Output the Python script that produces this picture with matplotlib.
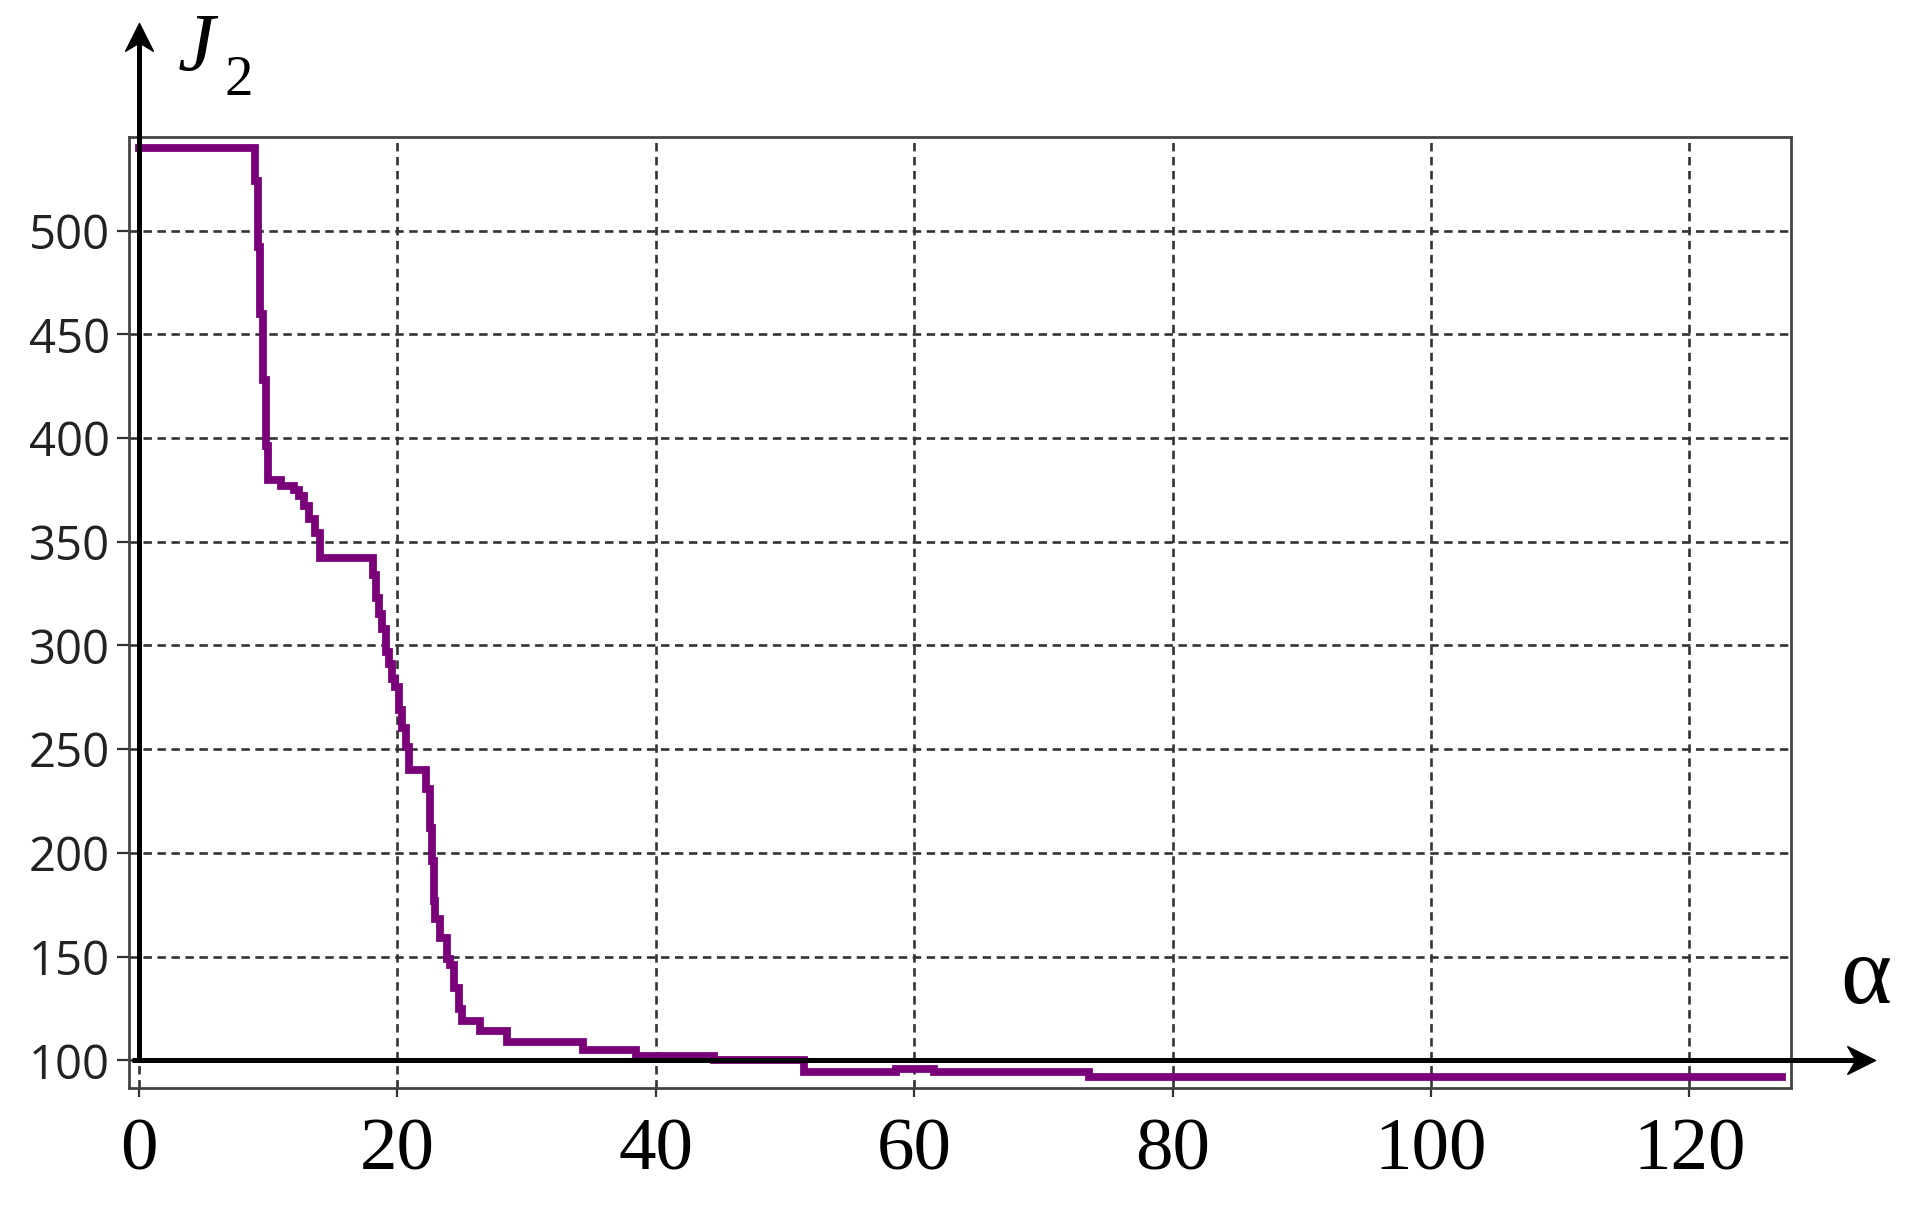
import matplotlib
matplotlib.use("Agg")
import matplotlib.pyplot as plt
from matplotlib.path import Path

# step curve J2(alpha)
alpha = [0, 9.0, 9.2, 9.4, 9.6, 9.8, 10.0, 11.0, 12.0, 12.4, 12.8, 13.2, 13.6, 14.0,
         18.1, 18.35, 18.6, 18.85, 19.1, 19.35, 19.6, 19.85, 20.1, 20.4, 20.65, 20.9,
         22.2, 22.55, 22.7, 22.85, 22.95, 23.3, 23.85, 24.1, 24.35, 24.75, 25.0,
         26.4, 28.5, 34.4, 38.5, 44.5, 51.5, 58.6, 61.5, 73.5, 127.2]
J2 = [540, 524, 492, 460, 428, 396, 380, 377, 375, 372, 367, 361, 354, 342,
      334, 323, 315, 308, 297, 291, 284, 280, 269, 260, 251, 240,
      231, 212, 196, 177, 168, 159, 149, 146, 135, 125, 119,
      114, 109, 105, 102, 100, 94.5, 96, 94.3, 92, 92]

x_ticks = [0, 20, 40, 60, 80, 100, 120]
y_ticks = [100, 150, 200, 250, 300, 350, 400, 450, 500]

fig = plt.figure(figsize=(19.16, 12.09), dpi=100)
ax = fig.add_axes([0.0673, 0.1001, 0.8673, 0.7863])

ax.plot(alpha, J2, drawstyle="steps-post", color="#7a0079", linewidth=5.6,
        solid_joinstyle="miter", zorder=3)

ax.set_xlim(-0.77, 127.84)
ax.set_ylim(86.75, 544.9)
ax.set_xticks(x_ticks)
ax.set_yticks(y_ticks)
ax.set_xticklabels([str(t) for t in x_ticks], fontfamily="Liberation Serif",
                   fontsize=54, color="black")
ax.set_yticklabels([str(t) for t in y_ticks], fontfamily="Open Sans",
                   fontsize=34, color="#222222")
ax.tick_params(axis="x", direction="out", length=6.5, width=1.6, color="#333333", pad=15)
ax.tick_params(axis="y", direction="out", length=8.6, width=1.6, color="#333333", pad=5)

ax.grid(True, linestyle=(0, (3.2, 2.1)), color="#333333", linewidth=1.9, zorder=1)
for s in ax.spines.values():
    s.set_color("#444444")
    s.set_linewidth(2)

# thick black coordinate axes with arrow heads
arrow_r = Path([(0, 0), (-1, 0.5), (-0.7, 0), (-1, -0.5), (0, 0)],
               [Path.MOVETO, Path.LINETO, Path.LINETO, Path.LINETO, Path.CLOSEPOLY])
arrow_u = Path([(0, 0), (0.5, -1), (0, -0.7), (-0.5, -1), (0, 0)],
               [Path.MOVETO, Path.LINETO, Path.LINETO, Path.LINETO, Path.CLOSEPOLY])

ty = ax.get_yaxis_transform()   # x in axes fraction, y in data
tx = ax.get_xaxis_transform()   # x in data, y in axes fraction
y0_frac = (100 - 86.75) / (544.9 - 86.75)

ax.plot([0.002, 1.045], [100, 100], transform=ty, color="black", lw=3.6,
        clip_on=False, zorder=4, solid_capstyle="butt")
ax.plot([1.0507], [100], transform=ty, marker=arrow_r, markersize=40,
        color="black", clip_on=False, zorder=5)
ax.plot([0, 0], [y0_frac, 1.114], transform=tx, color="black", lw=3.6,
        clip_on=False, zorder=4, solid_capstyle="butt")
ax.plot([0], [1.1206], transform=tx, marker=arrow_u, markersize=40,
        color="black", clip_on=False, zorder=5)

# axis names: J with a low subscript 2, and alpha
ax.text(0.0295, 1.0708, "J", transform=ax.transAxes, fontsize=60,
        fontfamily="Liberation Serif", fontstyle="italic", va="baseline", ha="left")
ax.text(0.0578, 1.0445, "2", transform=ax.transAxes, fontsize=41,
        fontfamily="Liberation Serif", va="baseline", ha="left")
ax.text(1.0297, 0.0894, "α", transform=ax.transAxes, fontsize=70,
        fontfamily="Liberation Serif", va="baseline", ha="left")

fig.savefig("out.png", dpi=100)
